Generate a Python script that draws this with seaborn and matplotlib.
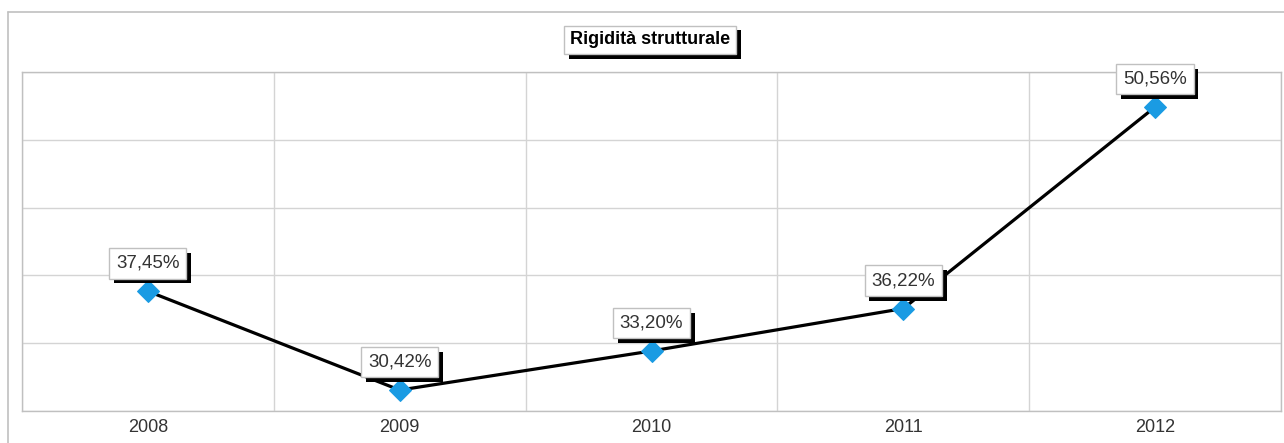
import matplotlib
matplotlib.use("Agg")
import matplotlib.pyplot as plt
import matplotlib.patheffects as pe
from matplotlib.lines import Line2D
import numpy as np
import pandas as pd
import seaborn as sns

years = ["2008", "2009", "2010", "2011", "2012"]
values = [37.45, 30.42, 33.20, 36.22, 50.56]
labels = ["37,45%", "30,42%", "33,20%", "36,22%", "50,56%"]
title = "Rigidità strutturale"

sns.set_theme(style="white")
plt.rcParams["font.family"] = ["Liberation Sans", "DejaVu Sans"]

df = pd.DataFrame({"anno": years, "valore": values})

fig = plt.figure(figsize=(12.84, 4.43), dpi=100)
ax = fig.add_axes([22 / 1284, 32 / 443, (1281 - 22) / 1284, (411 - 72) / 443])

sns.lineplot(data=df, x="anno", y="valore", ax=ax, color="black", linewidth=2.3,
             marker="D", markersize=11, markerfacecolor="#1a9be3",
             markeredgecolor="#1a9be3", sort=False)

ymin, ymax = 28.93, 53.05
ax.set_ylim(ymin, ymax)
ax.set_xlim(-0.5, len(years) - 0.5)
ax.set_yticks(np.linspace(ymin, ymax, 6))
ax.set_yticklabels([])
ax.tick_params(axis="y", length=0)
ax.set_xticks(range(len(years)))
ax.set_xticklabels(years)
ax.set_xticks(np.arange(-0.5, len(years), 1.0), minor=True)
ax.tick_params(axis="x", which="major", length=0, pad=6, labelsize=13, labelcolor="#333333")
ax.tick_params(axis="x", which="minor", length=14, width=1, color="#c8c8c8", direction="out")
ax.set_xlabel("")
ax.set_ylabel("")
ax.grid(True, axis="y", color="#d4d4d4", linewidth=1)
ax.grid(True, axis="x", which="minor", color="#d4d4d4", linewidth=1)
ax.grid(False, axis="x", which="major")
for s in ax.spines.values():
    s.set_color("#c0c0c0")
    s.set_linewidth(1)

shadow = [pe.SimplePatchShadow(offset=(3.4, -3.4), shadow_rgbFace="black", alpha=1.0), pe.Normal()]

for i, (v, lab) in enumerate(zip(values, labels)):
    t = ax.annotate(lab, xy=(i, v), xytext=(0, 14), textcoords="offset points",
                    ha="center", va="bottom", fontsize=13.5, color="#333333",
                    bbox=dict(boxstyle="square,pad=0.36", fc="white", ec="#c0c0c0", lw=1),
                    zorder=5)
    t.get_bbox_patch().set_path_effects(shadow)

tt = fig.text(650 / 1284, 1 - 40 / 443, title, ha="center", va="center", fontsize=13,
              fontweight="bold", color="black",
              bbox=dict(boxstyle="square,pad=0.32", fc="white", ec="#c0c0c0", lw=1))
tt.get_bbox_patch().set_path_effects(shadow)

# outer chart border
fig.add_artist(Line2D([8 / 1284, 8 / 1284], [0, 1 - 12 / 443], transform=fig.transFigure,
                      color="#c0c0c0", lw=1.2))
fig.add_artist(Line2D([8 / 1284, 1], [1 - 12 / 443, 1 - 12 / 443], transform=fig.transFigure,
                      color="#c0c0c0", lw=1.2))

fig.savefig("out.png", dpi=100, facecolor="white")
